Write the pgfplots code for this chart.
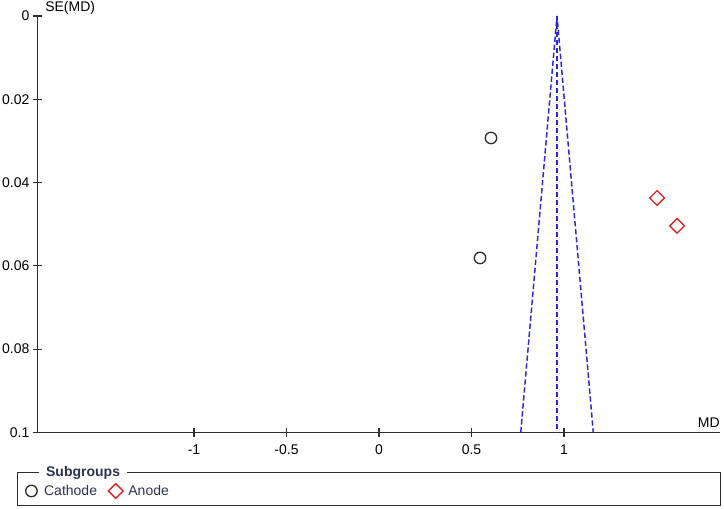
\documentclass[border=0pt]{standalone}
\usepackage{fontspec}
\setmainfont{Liberation Sans}
\usepackage{pgfplots}
\pgfplotsset{compat=1.18}
\definecolor{funnelblue}{RGB}{40,40,215}
\definecolor{anodered}{RGB}{221,34,34}
\definecolor{axisgray}{RGB}{45,45,45}
\definecolor{legendtext}{RGB}{45,50,85}
\newcommand\lbl{\fontsize{10.5}{12.6}\selectfont}

\begin{document}
\begin{tikzpicture}
\useasboundingbox (0pt,0pt) rectangle (543pt,381.75pt);
\begin{axis}[
  at={(28.3pt,57.4pt)}, anchor=south west,
  scale only axis, width=511.7pt, height=312.4pt,
  clip=false,
  xmin=-1.845, xmax=1.843,
  ymin=0, ymax=0.1, y dir=reverse,
  axis x line*=bottom, axis y line*=left,
  axis line style={-, draw=axisgray, line width=0.9pt},
  tick style={draw=axisgray, line width=0.9pt},
  tick align=center, major tick length=7pt,
  xtick={-1,-0.5,0,0.5,1}, xticklabels={-1,-0.5,0,0.5,1},
  ytick={0,0.02,0.04,0.06,0.08,0.1}, yticklabels={0,0.02,0.04,0.06,0.08,0.1},
  tick label style={font=\lbl, text=black},
  xticklabel style={yshift=-2.5pt},
  yticklabel style={xshift=0.8pt},
  legend style={at={(axis description cs:-0.018,-0.1405)}, anchor=west,
    draw=none, fill=none, font=\lbl, text=legendtext,
    legend columns=-1, inner xsep=0pt,
    /tikz/every even column/.append style={column sep=6.5pt}},
  legend image code/.code={\draw[#1] plot coordinates {(0pt,0pt)};
    \path[draw=none] (0pt,0pt) -- (7.5pt,0pt);},
]
% funnel
\addplot[forget plot, funnelblue, line width=1.1pt, dash pattern=on 4pt off 2pt]
  coordinates {(0.766,0.1) (0.962,0) (1.158,0.1)};
\addplot[forget plot, funnelblue, line width=1.1pt, dash pattern=on 4pt off 2pt]
  coordinates {(0.962,0) (0.962,0.1)};
% studies
\addplot[only marks, mark=o, mark size=4.3pt, draw=axisgray, line width=1pt]
  coordinates {(0.605,0.0293) (0.546,0.0581)};
\addlegendentry{Cathode}
\addplot[only marks, mark=square, mark size=3.9pt, mark options={rotate=45},
  draw=anodered, line width=1pt]
  coordinates {(1.503,0.0437) (1.611,0.0504)};
\addlegendentry{Anode}
% axis names
\node[font=\lbl, anchor=west, inner sep=0pt] at (axis description cs:0.0107,1.019) {SE(MD)};
\node[font=\lbl, anchor=east, inner sep=0pt] at (axis description cs:1,0.0228) {MD};
% legend frame
\draw[axisgray, line width=0.75pt] (axis description cs:-0.0293,-0.0972) rectangle (axis description cs:1,-0.1765);
\node[fill=white, anchor=west, inner xsep=5.5pt, inner ysep=1pt, font=\lbl\bfseries, text=legendtext]
  at (axis description cs:0.0012,-0.0972) {Subgroups};
\end{axis}
\end{tikzpicture}
\end{document}
